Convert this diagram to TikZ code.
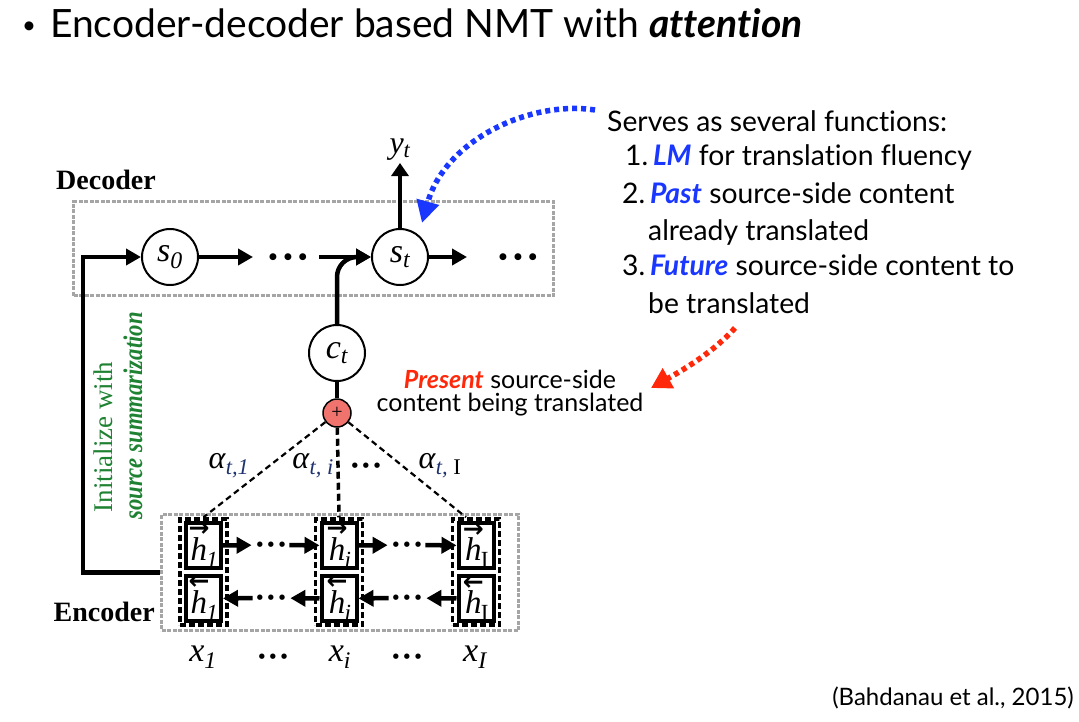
\documentclass[tikz,border=0pt]{standalone}
\usepackage{fontspec}
\setmainfont{Lato}[Ligatures={NoCommon,NoRequired}]
\newfontfamily\tnr{Liberation Serif}
\newfontfamily\dvs{DejaVu Sans}
\usetikzlibrary{arrows.meta}

\definecolor{fnblue}{RGB}{25,55,255}
\definecolor{fnred}{RGB}{255,40,10}
\definecolor{initgreen}{RGB}{30,130,50}
\definecolor{boxgray}{RGB}{165,165,165}
\definecolor{plusfill}{RGB}{240,115,110}
\definecolor{subnavy}{RGB}{30,50,110}

\newcommand{\setfs}[1]{\fontsize{#1}{#1}\selectfont}
% italic variable with subscript
\newcommand{\vari}[2]{{\tnr\itshape #1\textsubscript{#2}}}
% hidden-state glyphs with direction arrows
\newcommand{\hstate}[2]{\shortstack{{\dvs\bfseries\setfs{25}#1}\\[-2pt]{\tnr\itshape h}}\kern-3pt{\tnr\textsubscript{#2}}}
\newcommand{\hfw}[1]{\hstate{→}{#1}}
\newcommand{\hbw}[1]{\hstate{←}{#1}}
% three round dots
\newcommand{\dotsrow}[2]{{\dvs\setfs{#1}●\hspace{#2}●\hspace{#2}●}}

\begin{document}
\begin{tikzpicture}[x=1pt,y=-1pt,
  circ/.style={draw, circle, line width=2pt, minimum size=56pt, inner sep=0pt, font={\setfs{34}}},
  arr/.style={line width=4.5pt, -{Triangle[length=15pt,width=16pt]}},
  conn/.style={line width=4pt},
  dotsnode/.style={inner sep=0pt},
  grayframe/.style={draw=boxgray, line width=3pt, dash pattern=on 4pt off 1.5pt},
  colframe/.style={draw, line width=3.5pt, dash pattern=on 6pt off 3pt, minimum width=47pt, minimum height=106pt, inner sep=0pt},
  hbox/.style={draw, line width=4pt, minimum width=35pt, minimum height=45pt, inner sep=0pt, font={\setfs{33}}},
  att/.style={line width=2.2pt, dash pattern=on 6pt off 4pt},
  attmid/.style={line width=3.5pt, dash pattern=on 7pt off 4pt},
  lbl/.style={inner sep=1pt, font={\setfs{34}}},
  alph/.style={inner sep=0pt, font={\tnr\setfs{32}}},
  body/.style={anchor=base west, inner sep=0pt, font={\setfs{28.3}}},
  bluecall/.style={color=fnblue, line width=5.5pt, dash pattern=on 5pt off 4pt, -{Triangle[length=22pt,width=22pt]}},
  redcall/.style={color=fnred, line width=5.5pt, dash pattern=on 5pt off 4pt, -{Triangle[length=20pt,width=22pt]}}
]
\useasboundingbox (0,0) rectangle (1079,721);

% heading
\node[inner sep=0pt, font={\setfs{24}}] (bul) at (29,28) {•};
\node[anchor=base west, inner sep=0pt, font={\setfs{39}}] (title) at (50,37)
  {Encoder-decoder based NMT with \textbf{\textit{attention}}};

% decoder
\node[grayframe, minimum width=480pt, minimum height=94pt] (dec) at (313.5,248.5) {};
\node[inner sep=0pt, font={\tnr\bfseries\setfs{28}}] (declbl) at (106,180) {Decoder};
\node[circ] (s0) at (170,257) {\vari{s}{0}};
\node[dotsnode] (dd1) at (288,257) {\dotsrow{9}{7pt}};
\node[circ] (st) at (400,257) {\vari{s}{t}};
\node[dotsnode] (dd2) at (518,257) {\dotsrow{9}{7pt}};
\node[inner sep=2pt, font={\setfs{32}}] (yt) at (400,150) {\vari{y}{t}};
\draw[arr, shorten >=16pt] (s0) -- (dd1);
\draw[arr, shorten <=12pt] (dd1) -- (st);
\draw[arr, shorten >=32pt] (st) -- (dd2);
\draw[line width=4.5pt, -{Triangle[length=13pt,width=17pt]}] (st.north) -- (yt.south);

% context vector and weighted sum
\node[circ] (ct) at (337,353) {\vari{c}{t}};
\node[draw, circle, fill=plusfill, line width=1.5pt, minimum size=28pt, inner sep=0pt, font={\tnr\setfs{20}}] (pl) at (337,413) {+};
\draw[conn] (ct) -- (pl);
\draw[arr, rounded corners=20pt] (ct.north) |- (st.west);

% encoder
\node[grayframe, minimum width=357pt, minimum height=116pt] (enc) at (340,572.5) {};
\node[anchor=east, inner sep=0pt, font={\tnr\bfseries\setfs{28}}] (enclbl) at (155,612) {Encoder};

\node[colframe] (colA) at (203.5,572) {};
\node[colframe] (colB) at (339,572) {};
\node[colframe] (colC) at (476,572) {};

\node[hbox] (fA) at (203.5,545.5) {\hfw{\itshape 1}};
\node[hbox] (bA) at (203.5,598.5) {\hbw{\itshape 1}};
\node[hbox] (fB) at (339,545.5) {\hfw{\itshape i}};
\node[hbox] (bB) at (339,598.5) {\hbw{\itshape i}};
\node[hbox] (fC) at (476,545.5) {\hfw{I}};
\node[hbox] (bC) at (476,598.5) {\hbw{I}};

\node[dotsnode] (fd1) at (271,545) {\dotsrow{7}{5pt}};
\node[dotsnode] (fd2) at (407,545) {\dotsrow{7}{5pt}};
\node[dotsnode] (bd1) at (271,598) {\dotsrow{7}{5pt}};
\node[dotsnode] (bd2) at (407,598) {\dotsrow{7}{5pt}};

\draw[arr, shorten >=5pt] (fA) -- (fd1);
\draw[arr, shorten <=4pt] (fd1) -- (fB);
\draw[arr, shorten >=5pt] (fB) -- (fd2);
\draw[arr, shorten <=4pt] (fd2) -- (fC);
\draw[arr, shorten >=5pt] (bC) -- (bd2);
\draw[arr, shorten <=4pt] (bd2) -- (bB);
\draw[arr, shorten >=5pt] (bB) -- (bd1);
\draw[arr, shorten <=4pt] (bd1) -- (bA);

% inputs
\node[lbl] (xA) at (203,657) {\vari{x}{1}};
\node[dotsnode] (xd1) at (273,657) {\dotsrow{7}{5pt}};
\node[lbl] (xB) at (340,657) {\vari{x}{i}};
\node[dotsnode] (xd2) at (407,657) {\dotsrow{7}{5pt}};
\node[lbl] (xC) at (475,657) {\vari{x}{I}};

% attention weights
\draw[att] (pl) -- (colA.north);
\draw[attmid] (pl) -- (colB.north);
\draw[att] (pl) -- ([xshift=-10pt]colC.north);
\node[alph] (a1) at (229,466) {\textit{α}\textsubscript{\color{subnavy}\itshape t,1}};
\node[alph] (ai) at (313,466) {\textit{α}\textsubscript{\color{subnavy}\itshape t, i}};
\node[dotsnode] (ad) at (366,466) {\dotsrow{7}{5pt}};
\node[alph] (aI) at (440,466) {\textit{α}\textsubscript{{\color{subnavy}\itshape t,} I}};

% initialization path
\coordinate (bend) at (83,257);
\draw[arr] (enc.west) -| (bend) -- (s0.west);
\node[rotate=90, inner sep=0pt, text=initgreen, font={\tnr\setfs{27}}] (init1) at (103,437) {Initialize with};
\node[rotate=90, inner sep=0pt, text=initgreen, font={\tnr\bfseries\itshape\setfs{27}}] (init2) at (133,416)
  {\scalebox{0.84}[1]{source summarization}};

% callout on the decoder state
\node[body] (t0) at (607,131) {Serves as several functions:};
\node[body] (t1) at (625,165) {1.\,{\color{fnblue}\textbf{\textit{LM}}} for translation fluency};
\node[body] (t2) at (622,203) {2.\,{\color{fnblue}\textbf{\textit{Past}}} source-side content};
\node[body] (t3) at (648,240) {already translated};
\node[body] (t4) at (622,275) {3.\,{\color{fnblue}\textbf{\textit{Future}}} source-side content to};
\node[body] (t5) at (648,313) {be translated};
\draw[bluecall] (595,110) .. controls (530,100) and (445,140) .. (422,223);

% callout on the context vector
\node[align=center, inner sep=0pt, font={\setfs{25}}] (pres) at (510,393)
  {{\color{fnred}\textbf{\textit{Present}}} source-side\\[-2pt]content being translated};
\draw[redcall] (735,328) .. controls (715,350) and (690,366) .. (651,388);

% reference
\node[anchor=base east, inner sep=0pt, font={\setfs{24}}] (cite) at (1074,705) {(Bahdanau et al., 2015)};
\end{tikzpicture}
\end{document}
